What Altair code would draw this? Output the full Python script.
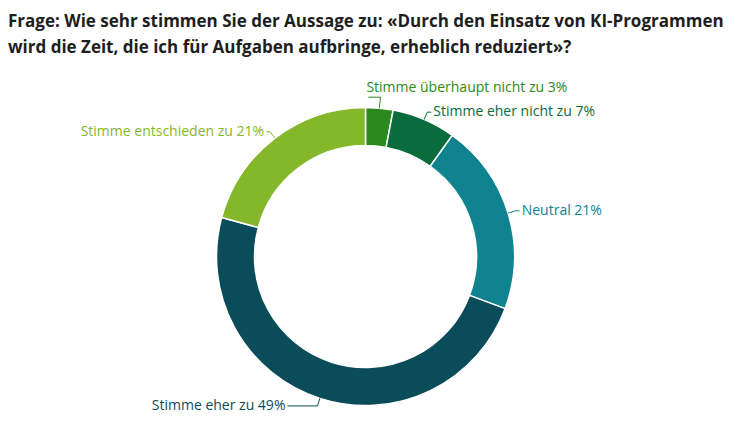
import altair as alt
import pandas as pd

# ---- data ----
categories = [
    "Stimme überhaupt nicht zu",
    "Stimme eher nicht zu",
    "Neutral",
    "Stimme eher zu",
    "Stimme entschieden zu",
]
values = [3, 7, 21, 49, 21]
colors = ["#2b8a1c", "#0a6b3c", "#0f8390", "#0a4c59", "#84b82a"]
title_lines = [
    "Frage: Wie sehr stimmen Sie der Aussage zu: «Durch den Einsatz von KI-Programmen",
    "wird die Zeit, die ich für Aufgaben aufbringe, erheblich reduziert»?",
]

df = pd.DataFrame({"cat": categories, "value": values, "idx": list(range(len(values)))})

# ---- layout ----
W, H = 734, 340
PAD_TOP, PAD_BOTTOM = 60, 6
CX, CY = 357.5, 188.5
R_OUT, R_IN = 149, 111
R_ELB = 157
R_ELB_SMALL = 160
LABEL_FONT = "Open Sans"

color_scale = alt.Scale(domain=categories, range=colors)
xs = alt.Scale(domain=[0, W], nice=False, zero=False)
ys = alt.Scale(domain=[0, H], nice=False, zero=False, reverse=True)

base = alt.Chart(df)

arcs = base.mark_arc(
    innerRadius=R_IN, outerRadius=R_OUT, stroke="white", strokeWidth=1.5
).encode(
    theta=alt.Theta("value:Q", stack=True),
    order=alt.Order("idx:Q"),
    color=alt.Color("cat:N", scale=color_scale, legend=None),
    x=alt.value(CX),
    y=alt.value(CY),
)

geo = (
    base.transform_joinaggregate(total="sum(value)")
    .transform_window(cum="sum(value)", sort=[alt.SortField("idx")], frame=[None, 0])
    .transform_calculate(
        mid="(datum.cum - datum.value/2) / datum.total * 2 * PI",
        small="datum.value < 5",
    )
    .transform_calculate(
        relb=f"datum.small ? {R_ELB_SMALL} : {R_ELB}",
        side="sin(datum.mid) >= 0 ? 1 : -1",
    )
    .transform_calculate(
        sx=f"{CX} + {R_OUT} * sin(datum.mid)",
        sy=f"{CY} - {R_OUT} * cos(datum.mid)",
        ex=f"{CX} + datum.relb * sin(datum.mid)",
        ey=f"{CY} - datum.relb * cos(datum.mid)",
        hookdir="datum.small ? -1 : datum.side",
        hooklen="datum.small ? 12 : (cos(datum.mid) < -0.5 ? 30 : 4)",
    )
    .transform_calculate(
        hx="datum.ex + datum.hookdir * datum.hooklen",
    )
    .transform_calculate(
        tx="datum.small ? datum.hx - 2 : datum.hx + datum.side * 2",
        ty="datum.small ? datum.ey - 9 : datum.ey",
        label="datum.cat + ' ' + datum.value + '%'",
    )
)

leaders = (
    geo.transform_calculate(k0="0", k1="1", k2="2")
    .transform_fold(["k0", "k1", "k2"], as_=["key", "step"])
    .transform_calculate(
        lx="datum.key == 'k0' ? datum.sx : (datum.key == 'k1' ? datum.ex : datum.hx)",
        ly="datum.key == 'k0' ? datum.sy : datum.ey",
        ordr="datum.key == 'k0' ? 0 : (datum.key == 'k1' ? 1 : 2)",
    )
    .mark_line(strokeWidth=1)
    .encode(
        x=alt.X("lx:Q", scale=xs, axis=None),
        y=alt.Y("ly:Q", scale=ys, axis=None),
        detail="cat:N",
        order=alt.Order("ordr:Q"),
        color=alt.Color("cat:N", scale=color_scale, legend=None),
    )
)

text_enc = dict(
    x=alt.X("tx:Q", scale=xs, axis=None),
    y=alt.Y("ty:Q", scale=ys, axis=None),
    text="label:N",
    color=alt.Color("cat:N", scale=color_scale, legend=None),
)

text_right = geo.transform_filter("datum.side > 0").mark_text(
    align="left", baseline="middle", font=LABEL_FONT, fontSize=14
).encode(**text_enc)

text_left = geo.transform_filter("datum.side < 0").mark_text(
    align="right", baseline="middle", font=LABEL_FONT, fontSize=14
).encode(**text_enc)

chart = (
    alt.layer(arcs, leaders, text_right, text_left)
    .properties(
        width=W,
        height=H,
        title=alt.TitleParams(
            text=title_lines,
            anchor="start",
            frame="group",
            font="Open Sans",
            fontSize=17,
            fontWeight="bold",
            color="#1e1e1e",
            lineHeight=26,
            offset=11,
        ),
        padding={"left": 0, "right": 0, "top": PAD_TOP, "bottom": PAD_BOTTOM},
        autosize=alt.AutoSizeParams(type="none"),
    )
    .configure_view(strokeWidth=0)
)

chart.save("out.html", embed_options={"renderer": "svg", "actions": False})
